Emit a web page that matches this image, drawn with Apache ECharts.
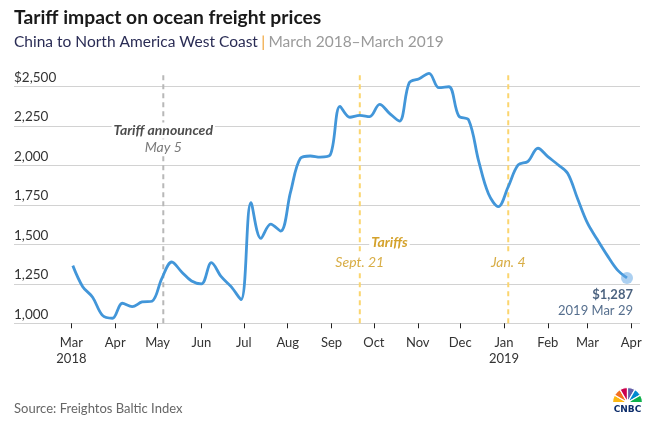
<!DOCTYPE html>
<html><head><meta charset="utf-8">
<script src="https://cdn.jsdelivr.net/npm/echarts@6/dist/echarts.min.js"></script>
<style>html,body{margin:0;padding:0;background:#fff}#c{width:647px;height:425px}</style>
</head><body><div id="c"></div>
<script>
// ---- data ----
const dates = [
 '2018-03-02','2018-03-09','2018-03-16','2018-03-23','2018-03-30',
 '2018-04-06','2018-04-13','2018-04-20','2018-04-27',
 '2018-05-04','2018-05-11','2018-05-18','2018-05-25',
 '2018-06-01','2018-06-08','2018-06-15','2018-06-22','2018-06-29',
 '2018-07-06','2018-07-13','2018-07-20','2018-07-27',
 '2018-08-03','2018-08-10','2018-08-17','2018-08-24','2018-08-31',
 '2018-09-07','2018-09-14','2018-09-21','2018-09-28',
 '2018-10-05','2018-10-12','2018-10-19','2018-10-26',
 '2018-11-02','2018-11-09','2018-11-16','2018-11-23','2018-11-30',
 '2018-12-07','2018-12-14','2018-12-21','2018-12-28',
 '2019-01-04','2019-01-11','2019-01-18','2019-01-25',
 '2019-02-01','2019-02-08','2019-02-15','2019-02-22',
 '2019-03-01','2019-03-08','2019-03-15','2019-03-22','2019-03-29'
];
const prices = [
 1365,1232,1165,1050,1032,
 1127,1105,1135,1140,
 1285,1388,1325,1268,
 1250,1384,1295,1232,1150,
 1763,1538,1628,1584,
 1830,2044,2059,2052,2065,
 2373,2304,2316,2308,
 2386,2329,2280,2523,
 2548,2582,2491,2497,2312,
 2287,2030,1820,1738,
 1865,2002,2025,2108,
 2055,2005,1950,1790,
 1635,1530,1430,1340,1287
];
const monthTicks = ['2018-03-01','2018-04-01','2018-05-01','2018-06-01','2018-07-01','2018-08-01','2018-09-01','2018-10-01','2018-11-01','2018-12-01','2019-01-01','2019-02-01','2019-03-01','2019-04-01'];
const monthLabels = ['Mar\n2018','Apr','May','Jun','Jul','Aug','Sep','Oct','Nov','Dec','Jan\n2019','Feb','Mar','Apr'];
const yTicks = [1000,1250,1500,1750,2000,2250,2500];
const yTickLabels = ['1,000','1,250','1,500','1,750','2,000','2,250','$2,500'];
const eventDates = ['2018-05-05','2018-09-21','2019-01-04'];
const eventKinds = ['announce','tariff','tariff'];
const lastLabel = '$1,287';
const lastDateLabel = '2019 Mar 29';

// ---- build ----
const DAY = 86400000;
const ts = s => Date.parse(s + 'T00:00:00Z');
const tickTs = monthTicks.map(ts);
const seriesData = dates.map((d, i) => [ts(d), prices[i]]);
const last = seriesData[seriesData.length - 1];
const xMin = ts('2018-03-01') - 40.6 * DAY;
const xMax = ts('2019-04-01') + 6.2 * DAY;
const FONT = 'Lato';

const eventSeries = eventDates.map((d, i) => ({
  type: 'line', data: [[ts(d), 1000], [ts(d), 2590]], clip: false, showSymbol: false, silent: true, z: 1,
  lineStyle: {color: eventKinds[i] === 'announce' ? '#b8b8b8' : '#fbd56f', type: [5, 4], width: 2}
}));

const chart = echarts.init(document.getElementById('c'), null, {renderer: 'canvas'});
chart.setOption({
  animation: false,
  backgroundColor: '#fff',
  textStyle: {fontFamily: FONT},
  grid: {left: 14, right: 7, top: 86.3, bottom: 101.7, containLabel: false},
  xAxis: {
    type: 'value', min: xMin, max: xMax, scale: true,
    splitLine: {show: false},
    axisLine: {show: false},
    axisTick: {show: true, customValues: tickTs, length: 5, lineStyle: {color: '#222', width: 1}},
    axisLabel: {
      customValues: tickTs, color: '#333', fontSize: 13, fontFamily: FONT, margin: 12, lineHeight: 16,
      formatter: v => { const i = tickTs.indexOf(v); return i >= 0 ? monthLabels[i] : ''; }
    }
  },
  yAxis: {
    type: 'value', min: 1000, max: 2500, interval: 250,
    axisLine: {show: false}, axisTick: {show: false},
    splitLine: {lineStyle: {color: '#d2d2d2', width: 1}},
    axisLabel: {
      inside: true, align: 'left', verticalAlign: 'bottom', margin: 0, padding: [0, 0, 2, 0],
      color: '#333', fontSize: 13.5, fontFamily: FONT,
      formatter: v => { const i = yTicks.indexOf(v); return i >= 0 ? yTickLabels[i] : ''; }
    }
  },
  series: [
    ...eventSeries,
    {
      type: 'line', data: seriesData, smooth: 0.35, clip: false, showSymbol: false,
      lineStyle: {color: '#4296d9', width: 2.8}, z: 3
    },
    {
      type: 'scatter', data: [last], symbolSize: 12, clip: false, z: 4,
      itemStyle: {color: 'rgba(95,165,228,0.65)'},
      label: {
        show: true, position: 'bottom', align: 'right', offset: [6, -2], distance: 4,
        formatter: '{a|' + lastLabel + '}\n{b|' + lastDateLabel + '}',
        rich: {
          a: {fontFamily: FONT, fontSize: 13, fontWeight: 'bold', color: '#1d3a5e', lineHeight: 17, align: 'right'},
          b: {fontFamily: FONT, fontSize: 13, color: '#2b4a70', lineHeight: 16, align: 'right'}
        }
      }
    }
  ]
});

const px = (d, v) => chart.convertToPixel({xAxisIndex: 0, yAxisIndex: 0}, [ts(d), v]);
const pA1 = px(eventDates[0], 2220), pA2 = px(eventDates[0], 2115);
const pT = px('2018-10-12', 1510);
const pS = px(eventDates[1], 1385), pJ = px(eventDates[2], 1385);

function label(p, text, opts) {
  return {type: 'text', x: p[0], y: p[1], z: 10, style: Object.assign({
    text: text, align: 'center', verticalAlign: 'middle', fontFamily: FONT, fontSize: 14,
    fontStyle: 'italic', backgroundColor: '#fff', padding: [1, 2]
  }, opts)};
}

// CNBC peacock
const cx = 627.5, cy = 402.5;
const feathers = ['#fcb711', '#f37021', '#cc004c', '#6460aa', '#0089d0', '#0db14b'];
const peacock = feathers.map((c, i) => ({
  type: 'sector', z: 10,
  shape: {cx: cx, cy: cy, r: 15, r0: 2.5, startAngle: Math.PI + i * Math.PI / 6, endAngle: Math.PI + (i + 1) * Math.PI / 6},
  style: {fill: c, stroke: '#fff', lineWidth: 1.2}
}));

chart.setOption({
  graphic: [
    {type: 'text', x: 14, y: 18, style: {text: 'Tariff impact on ocean freight prices', fontFamily: FONT, fontSize: 19.3, fontWeight: 'bold', fill: '#1a1a1a', verticalAlign: 'middle'}},
    {type: 'text', x: 14, y: 42, style: {
      text: '{a|China to North America West Coast} {b||} {c|March 2018–March 2019}',
      verticalAlign: 'middle',
      rich: {
        a: {fontFamily: FONT, fontSize: 15.5, fill: '#2a2c55'},
        b: {fontFamily: FONT, fontSize: 15.5, fill: '#f0a030'},
        c: {fontFamily: FONT, fontSize: 15.5, fill: '#9a9a9a'}
      }
    }},
    label(pA1, 'Tariff announced', {fontWeight: 'bold', fill: '#4d4d4d'}),
    label(pA2, 'May 5', {fill: '#7a7a7a'}),
    label(pT, 'Tariffs', {fontWeight: 'bold', fill: '#d4a22c'}),
    label(pS, 'Sept. 21', {fill: '#d8ad45'}),
    label(pJ, 'Jan. 4', {fill: '#d8ad45'}),
    {type: 'text', x: 14, y: 409, style: {text: 'Source: Freightos Baltic Index', fontFamily: FONT, fontSize: 13, fill: '#666', verticalAlign: 'middle'}},
    ...peacock,
    {type: 'circle', z: 11, shape: {cx: cx, cy: cy, r: 3}, style: {fill: '#fff'}},
    {type: 'text', x: 627.5, y: 409.5, z: 10, style: {text: 'CNBC', fontFamily: 'DejaVu Sans', fontSize: 9, fontWeight: 'bold', fill: '#0d2d6b', align: 'center', verticalAlign: 'middle'}}
  ]
});
</script></body></html>
